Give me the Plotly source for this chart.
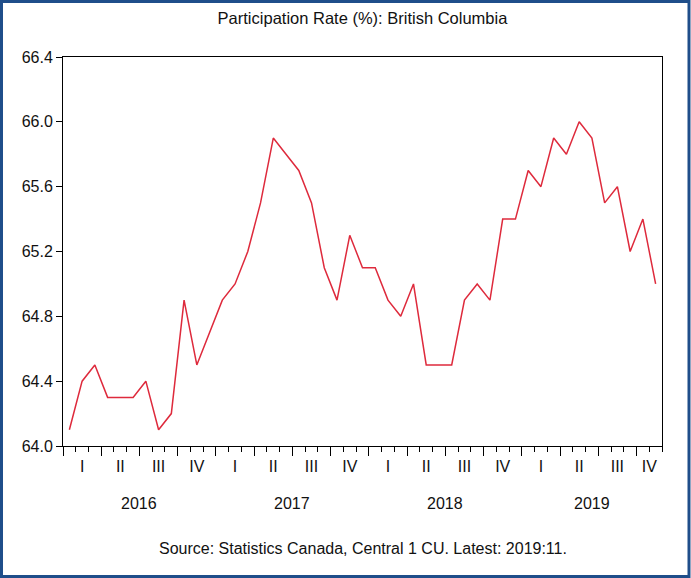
import plotly.graph_objects as go

# ── Data: BC participation rate, monthly 2016:01 - 2019:11 ──
START_YEAR = 2016
RATE = [
    64.1, 64.4, 64.5, 64.3, 64.3, 64.3, 64.4, 64.1, 64.2, 64.9, 64.5, 64.7,  # 2016
    64.9, 65.0, 65.2, 65.5, 65.9, 65.8, 65.7, 65.5, 65.1, 64.9, 65.3, 65.1,  # 2017
    65.1, 64.9, 64.8, 65.0, 64.5, 64.5, 64.5, 64.9, 65.0, 64.9, 65.4, 65.4,  # 2018
    65.7, 65.6, 65.9, 65.8, 66.0, 65.9, 65.5, 65.6, 65.2, 65.4, 65.0,        # 2019
]
QUARTER_LABELS = ["I", "II", "III", "IV"]
YEAR_LABELS = ["2016", "2017", "2018", "2019"]
Y_TICKS = [64.0, 64.4, 64.8, 65.2, 65.6, 66.0, 66.4]

TITLE = "Participation Rate (%): British Columbia"
SOURCE = "Source: Statistics Canada, Central 1 CU. Latest: 2019:11."

LINE_RED = "#DE2A3C"
FRAME_BLUE = "#1F4E8A"
FONT = dict(family="Liberation Sans, Arial, sans-serif", size=16, color="#111111")

W, H = 691, 578
M = dict(l=63, r=29, t=57, b=132)
PW, PH = W - M["l"] - M["r"], H - M["t"] - M["b"]

n = len(RATE)
x_mid = [i + 0.5 for i in range(n)]           # month centres, axis runs 0..n

# quarter centres (last quarter may be partial)
q_pos, q_text = [], []
for q0 in range(0, n, 3):
    q_end = min(q0 + 3, n)
    q_pos.append((q0 + q_end) / 2)
    q_text.append(QUARTER_LABELS[(q0 // 3) % 4])

fig = go.Figure()
fig.add_trace(go.Scatter(
    x=x_mid, y=RATE, mode="lines",
    line=dict(color=LINE_RED, width=1.5),
    showlegend=False, hoverinfo="skip",
))

major = list(range(0, n + 1, 3))
fig.update_layout(
    width=W, height=H,
    margin=dict(l=M["l"], r=M["r"], t=M["t"], b=M["b"], pad=0),
    paper_bgcolor="white", plot_bgcolor="white",
    font=FONT,
    title=dict(text=TITLE, xref="paper", x=0.5, xanchor="center",
               y=1 - 18 / H, yanchor="middle", font=dict(size=16.5)),
    xaxis=dict(
        range=[0, n], showgrid=False, zeroline=False,
        showline=True, linecolor="black", linewidth=1, mirror=True,
        tickmode="array", tickvals=major, ticktext=[""] * len(major),
        ticks="outside", ticklen=9, tickcolor="black", tickwidth=1,
        minor=dict(tickmode="linear", tick0=0, dtick=1, ticks="outside",
                   ticklen=5, tickcolor="black", tickwidth=1),
    ),
    xaxis2=dict(
        range=[0, n], overlaying="x", anchor="y", side="bottom",
        showgrid=False, zeroline=False, showline=False,
        tickmode="array", tickvals=q_pos, ticktext=q_text, ticks="",
        ticklabelstandoff=9,
    ),
    yaxis=dict(
        range=[64.0, 66.4], showgrid=False, zeroline=False,
        showline=True, linecolor="black", linewidth=1, mirror=True,
        tickmode="array", tickvals=Y_TICKS, ticktext=[f"{v:.1f}" for v in Y_TICKS],
        ticks="outside", ticklen=6, tickcolor="black", tickwidth=1,
    ),
)

# invisible trace to activate xaxis2
fig.add_trace(go.Scatter(x=[0, n], y=[None, None], xaxis="x2", showlegend=False,
                         hoverinfo="skip", mode="lines"))

# year labels under the quarters
for k, yr in enumerate(YEAR_LABELS):
    start = k * 12
    end = min(start + 12, n)
    fig.add_annotation(x=(start + end) / 2, xref="x", y=-(503 - 446) / PH, yref="paper",
                       text=yr, showarrow=False, yanchor="middle")

fig.add_annotation(x=0.5, xref="paper", y=-(548 - 446) / PH, yref="paper",
                   text=SOURCE, showarrow=False, yanchor="middle")

# blue frame around the whole picture
fig.add_shape(type="rect", xref="paper", yref="paper",
              x0=-(M["l"] - 1.5) / PW, x1=1 + (M["r"] - 2) / PW,
              y0=-(M["b"] - 1.5) / PH, y1=1 + (M["t"] - 1.5) / PH,
              line=dict(color=FRAME_BLUE, width=3), fillcolor="rgba(0,0,0,0)", layer="above")

fig.write_html("out.html", config={"displayModeBar": False},
               post_script="document.body.style.margin='0';")
